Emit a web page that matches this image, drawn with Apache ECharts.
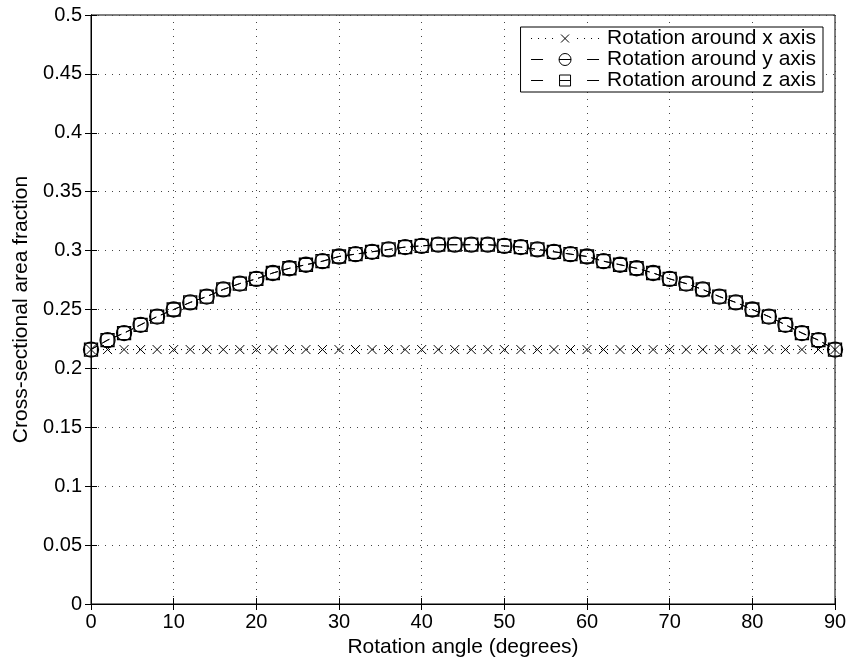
<!DOCTYPE html>
<html><head><meta charset="utf-8">
<script src="https://cdn.jsdelivr.net/npm/echarts@6/dist/echarts.min.js"></script>
<style>html,body{margin:0;padding:0;background:#fff}#c{width:850px;height:665px}</style>
</head><body><div id="c"></div>
<script>
const angles = [0,2,4,6,8,10,12,14,16,18,20,22,24,26,28,30,32,34,36,38,40,42,44,46,48,50,52,54,56,58,60,62,64,66,68,70,72,74,76,78,80,82,84,86,88,90];
const rotX = [0.216,0.216,0.216,0.216,0.216,0.216,0.216,0.216,0.216,0.216,0.216,0.216,0.216,0.216,0.216,0.216,0.216,0.216,0.216,0.216,0.216,0.216,0.216,0.216,0.216,0.216,0.216,0.216,0.216,0.216,0.216,0.216,0.216,0.216,0.216,0.216,0.216,0.216,0.216,0.216,0.216,0.216,0.216,0.216,0.216,0.216];
const rotY = [0.216,0.224,0.230,0.237,0.244,0.250,0.256,0.261,0.267,0.272,0.276,0.281,0.285,0.288,0.291,0.295,0.297,0.299,0.301,0.303,0.304,0.305,0.305,0.305,0.305,0.304,0.303,0.301,0.299,0.297,0.295,0.291,0.288,0.285,0.281,0.276,0.272,0.267,0.261,0.256,0.250,0.244,0.237,0.230,0.224,0.216];
const rotZ = [0.216,0.224,0.230,0.237,0.244,0.250,0.256,0.261,0.267,0.272,0.276,0.281,0.285,0.288,0.291,0.295,0.297,0.299,0.301,0.303,0.304,0.305,0.305,0.305,0.305,0.304,0.303,0.301,0.299,0.297,0.295,0.291,0.288,0.285,0.281,0.276,0.272,0.267,0.261,0.256,0.250,0.244,0.237,0.230,0.224,0.216];
const names = ['Rotation around x axis','Rotation around y axis','Rotation around z axis'];

const pairs = v => angles.map((a,i)=>[a,v[i]]);
const FONT = 'Liberation Sans';
const chart = echarts.init(document.getElementById('c'));
const gridLine = {show:true, lineStyle:{color:'#444', type:[1,6], width:1}};
const axisLineBlack = {show:true, lineStyle:{color:'#000', width:1}};
const tick = {show:true, inside:true, length:6, lineStyle:{color:'#000'}};
const iconX = 'path://M0,7L1,7M7,7L8,7M14,7L15,7M21,7L22,7M30,3L38,11M38,3L30,11M46,7L47,7M53,7L54,7M60,7L61,7M67,7L68,7';
const iconY = 'path://M0,7L12,7M28,7A6,6 0 1 1 40,7A6,6 0 1 1 28,7M28,7L40,7M56,7L68,7';
const iconZ = 'path://M0,7L12,7M28.5,1.5L39.5,1.5L39.5,12.5L28.5,12.5ZM28.5,7L39.5,7M56,7L68,7';
const legendStyle = {color:'transparent', borderColor:'#000', borderWidth:1};
chart.setOption({
  animation:false,
  backgroundColor:'#fff',
  grid:{left:91, right:15, top:15, bottom:61, show:true, borderColor:'#000', borderWidth:1},
  legend:{
    right:27, top:27, orient:'vertical', itemGap:0, itemWidth:68, itemHeight:14,
    backgroundColor:'#fff', borderColor:'#000', borderWidth:1, padding:[1,7,1,10],
    textStyle:{fontFamily:FONT, fontSize:21, color:'#000', padding:[0,0,0,3]},
    data:[
      {name:names[0], icon:iconX, itemStyle:legendStyle},
      {name:names[1], icon:iconY, itemStyle:legendStyle},
      {name:names[2], icon:iconZ, itemStyle:legendStyle}
    ]
  },
  xAxis:[{
    type:'value', min:0, max:90, interval:10, position:'bottom',
    name:'Rotation angle (degrees)', nameLocation:'middle', nameGap:32,
    nameTextStyle:{fontFamily:FONT, fontSize:21, color:'#000'},
    axisLine:axisLineBlack, axisTick:tick,
    axisLabel:{fontFamily:FONT, fontSize:20, color:'#000', margin:8},
    splitLine:gridLine
  },{
    type:'value', min:0, max:90, interval:10, position:'top',
    axisLine:axisLineBlack, axisTick:tick,
    axisLabel:{show:false}, splitLine:{show:false}
  }],
  yAxis:[{
    type:'value', min:0, max:0.5, interval:0.05, position:'left',
    name:'Cross-sectional area fraction', nameLocation:'middle', nameGap:59,
    nameTextStyle:{fontFamily:FONT, fontSize:21, color:'#000'},
    axisLine:axisLineBlack, axisTick:tick,
    axisLabel:{fontFamily:FONT, fontSize:20, color:'#000', margin:9},
    splitLine:gridLine
  },{
    type:'value', min:0, max:0.5, interval:0.05, position:'right',
    axisLine:axisLineBlack, axisTick:tick,
    axisLabel:{show:false}, splitLine:{show:false}
  }],
  series:[
    {name:names[0], type:'line', data:pairs(rotX),
     symbol:'path://M0,0L10,10M10,0L0,10', symbolSize:9,
     itemStyle:{color:'transparent', borderColor:'#000', borderWidth:1},
     lineStyle:{color:'#000', width:1, type:[1,5]}},
    {name:names[1], type:'line', data:pairs(rotY),
     symbol:'circle', symbolSize:15,
     itemStyle:{color:'transparent', borderColor:'#000', borderWidth:1.3},
     lineStyle:{color:'#000', width:1, type:[8,5]}},
    {name:names[2], type:'line', data:pairs(rotZ),
     symbol:'rect', symbolSize:13,
     itemStyle:{color:'transparent', borderColor:'#000', borderWidth:1.3},
     lineStyle:{color:'#000', width:1, type:[8,5]}}
  ]
});
</script></body></html>
